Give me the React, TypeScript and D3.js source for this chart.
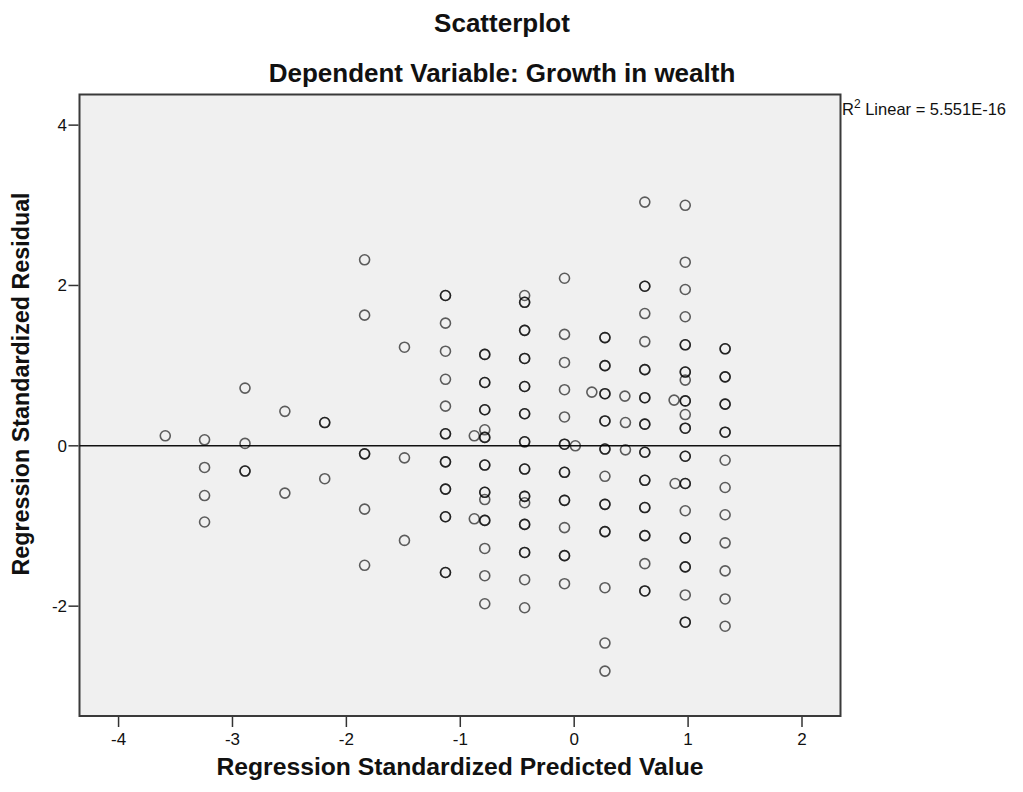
import React from "react";
import * as d3 from "d3";

// Predicted-value bins (most cases fall on one of these columns)
const columnPredicted: number[] = [
  -3.59, -3.245, -2.89, -2.54, -2.19, -1.84, -1.49, -1.13, -0.785, -0.435,
  -0.085, 0.27, 0.62, 0.975, 1.325,
];

// Standardized residuals for each column (repeated values are tied cases)
const columnResiduals: number[][] = [
  [0.125],
  [0.075, -0.27, -0.62, -0.95],
  [0.72, 0.03, -0.315, -0.315],
  [0.43, -0.59],
  [0.29, 0.29, -0.41],
  [2.32, 1.63, -0.1, -0.1, -0.79, -1.49],
  [1.23, -0.15, -1.18],
  [1.875, 1.875, 1.53, 1.18, 0.83, 0.495, 0.15, 0.15, -0.2, -0.2, -0.54, -0.54, -0.885, -0.885, -1.58, -1.58],
  [1.14, 1.14, 0.79, 0.79, 0.45, 0.45, 0.2, 0.105, 0.105, -0.24, -0.24, -0.58, -0.58, -0.67, -0.93, -0.93, -1.28, -1.62, -1.97],
  [1.875, 1.79, 1.79, 1.44, 1.44, 1.09, 1.09, 0.74, 0.74, 0.4, 0.4, 0.05, 0.05, -0.29, -0.29, -0.63, -0.63, -0.71, -0.98, -0.98, -1.33, -1.33, -1.67, -2.02],
  [2.09, 1.39, 1.04, 0.7, 0.36, 0.02, 0.02, -0.33, -0.33, -0.68, -0.68, -1.02, -1.37, -1.37, -1.72],
  [1.35, 1.35, 1.0, 1.0, 0.65, 0.65, 0.31, 0.31, -0.04, -0.04, -0.38, -0.73, -0.73, -1.07, -1.07, -1.77, -2.46, -2.81],
  [3.04, 1.99, 1.99, 1.65, 1.3, 0.95, 0.95, 0.6, 0.6, 0.27, 0.27, -0.08, -0.08, -0.43, -0.43, -0.77, -0.77, -1.12, -1.12, -1.47, -1.81, -1.81],
  [3.0, 2.29, 1.95, 1.61, 1.26, 1.26, 0.92, 0.92, 0.82, 0.56, 0.56, 0.39, 0.22, 0.22, -0.13, -0.13, -0.47, -0.47, -0.81, -1.15, -1.15, -1.51, -1.51, -1.86, -2.2, -2.2],
  [1.21, 1.21, 0.86, 0.86, 0.52, 0.52, 0.17, 0.17, -0.18, -0.52, -0.86, -1.21, -1.56, -1.91, -2.25],
];

// Cases that sit between the columns
const extraPredicted: number[] = [-0.877, -0.877, 0.01, 0.155, 0.445, 0.45, 0.45, 0.877, 0.886];
const extraResidual: number[] = [0.125, -0.91, 0.0, 0.67, 0.62, 0.29, -0.05, 0.57, -0.47];

const xTicks: number[] = [-4, -3, -2, -1, 0, 1, 2];
const yTicks: number[] = [4, 2, 0, -2];

const titleLines = ["Scatterplot", "Dependent Variable: Growth in wealth"];
const xTitle = "Regression Standardized Predicted Value";
const yTitle = "Regression Standardized Residual";
const fitLabel = { lead: "R", sup: "2", rest: " Linear = 5.551E-16" };
const fitIntercept = 0;

const W = 1023;
const H = 792;
const plot = { left: 79.5, right: 840.5, top: 94.5, bottom: 716 };
const font = "'Liberation Sans', Arial, sans-serif";

export default function App() {
  const x = d3.scaleLinear().domain([-4.343, 2.338]).range([plot.left, plot.right]);
  const y = d3.scaleLinear().domain([-3.37, 4.382]).range([plot.bottom, plot.top]);

  const points: { p: number; r: number }[] = [];
  columnPredicted.forEach((p, i) => columnResiduals[i].forEach((r) => points.push({ p, r })));
  extraPredicted.forEach((p, i) => points.push({ p, r: extraResidual[i] }));

  const fitLine = d3.line<number>()
    .x((d) => x(d))
    .y(() => y(fitIntercept));

  return (
    <svg
      width={W}
      height={H}
      style={{ position: "absolute", left: 0, top: 0, display: "block", background: "#fff" }}
      fontFamily={font}
    >
      {/* titles */}
      <text x={502} y={32} textAnchor="middle" fontSize={26} fontWeight="bold" fill="#111">
        {titleLines[0]}
      </text>
      <text x={502} y={82} textAnchor="middle" fontSize={26} fontWeight="bold" fill="#111">
        {titleLines[1]}
      </text>

      {/* plot area */}
      <rect
        x={plot.left}
        y={plot.top}
        width={plot.right - plot.left}
        height={plot.bottom - plot.top}
        fill="#f0f0f0"
        stroke="#3a3a3a"
        strokeWidth={2}
      />

      {/* fit line */}
      <path d={fitLine([x.domain()[0], x.domain()[1]]) || ""} stroke="#111" strokeWidth={1.5} fill="none" />

      {/* points */}
      <g fill="none" stroke="#000" strokeOpacity={0.62} strokeWidth={1.6}>
        {points.map((d, i) => (
          <circle key={i} cx={x(d.p)} cy={y(d.r)} r={5} />
        ))}
      </g>

      {/* x axis ticks */}
      <g>
        {xTicks.map((t) => (
          <g key={t} transform={`translate(${x(t)},0)`}>
            <line y1={plot.bottom + 1} y2={plot.bottom + 11} stroke="#333" strokeWidth={1.5} />
            <text y={745} textAnchor="middle" fontSize={17} fill="#111">
              {t}
            </text>
          </g>
        ))}
      </g>

      {/* y axis ticks */}
      <g>
        {yTicks.map((t) => (
          <g key={t} transform={`translate(0,${y(t)})`}>
            <line x1={plot.left - 11} x2={plot.left - 1} stroke="#333" strokeWidth={1.5} />
            <text x={67} y={6} textAnchor="end" fontSize={17} fill="#111">
              {t}
            </text>
          </g>
        ))}
      </g>

      {/* axis titles */}
      <text x={460} y={775} textAnchor="middle" fontSize={24.7} fontWeight="bold" fill="#111">
        {xTitle}
      </text>
      <text
        transform={`translate(29,384) rotate(-90)`}
        textAnchor="middle"
        fontSize={23.3}
        fontWeight="bold"
        fill="#111"
      >
        {yTitle}
      </text>

      {/* fit statistic */}
      <text x={842} y={115} fontSize={16.5} fill="#111">
        {fitLabel.lead}
        <tspan dy={-7} fontSize={12}>{fitLabel.sup}</tspan>
        <tspan dy={7}>{fitLabel.rest}</tspan>
      </text>
    </svg>
  );
}
